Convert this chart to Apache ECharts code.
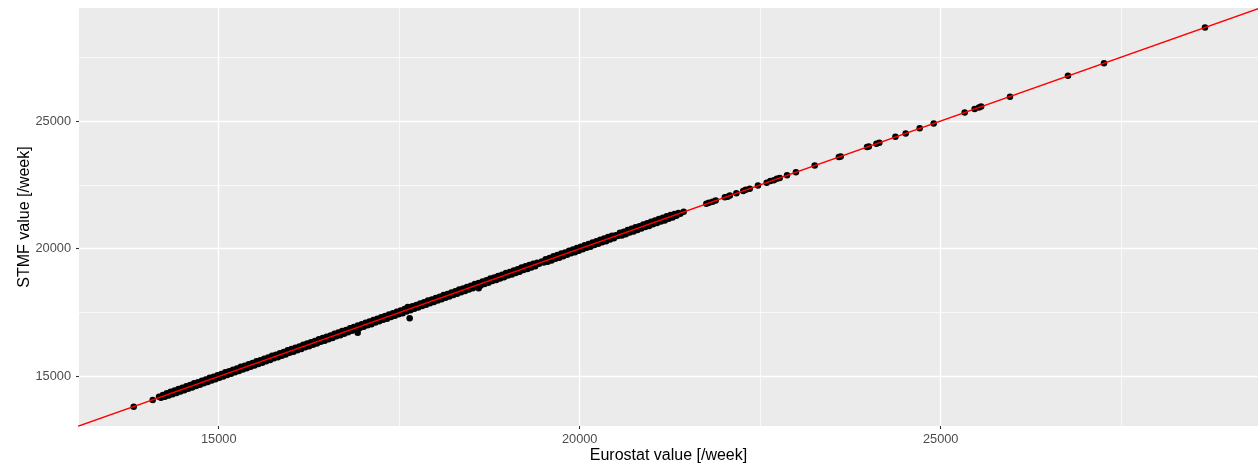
<!DOCTYPE html>
<html>
<head>
<meta charset="utf-8">
<script src="https://cdn.jsdelivr.net/npm/echarts@6/dist/echarts.min.js"></script>
<style>
html,body{margin:0;padding:0;background:#fff;}
#chart{width:1258px;height:463px;}
</style>
</head>
<body>
<div id="chart"></div>
<script>
// Eurostat weekly values (x)
const eurostat = [
13823,14086,
14173,14200,14227,14254,14281,14308,14335,14362,14389,14416,14443,14470,14497,14524,14551,14578,14605,14632,
14659,14686,14713,14740,14767,14794,14821,14848,14875,14902,14929,14956,14983,15010,15037,15064,15091,15118,
15145,15172,15199,15226,15253,15280,15307,15334,15361,15388,15415,15442,15469,15496,15523,15550,15577,15604,
15631,15658,15685,15712,15739,15766,15793,15820,15847,15874,15901,15928,15955,15982,16009,16036,16063,16090,
16117,16144,16171,16198,16225,16252,16279,16306,16333,16360,16387,16414,16441,16468,16495,16522,16549,16576,
16603,16630,16657,16684,16711,16738,16765,16792,16819,16846,16873,16900,16927,16954,16981,17008,17035,17062,
17089,17116,17143,17170,17197,17224,17251,17278,17305,17332,17359,17386,17413,17440,17467,17494,17521,17548,
17575,17602,17629,17656,17683,17710,17737,17764,17791,17818,17845,17872,17899,17926,17953,17980,18007,18034,
18061,18088,18115,18142,18169,18196,18223,18250,18277,18304,18331,18358,18385,18412,18439,18466,18493,18520,
18547,18574,18601,18628,18655,18682,18709,18736,18763,18790,18817,18844,18871,18898,18925,18952,18979,19006,
19033,19060,19087,19114,19141,19168,19195,19222,19249,19276,19303,19330,19357,19384,19411,19438,
19475,19502,19529,19556,19583,19610,19637,19664,19691,19718,19745,19772,19799,19826,19853,19880,19907,19934,
19961,19988,20015,20042,20069,20096,20123,20150,20177,20204,20231,20258,20285,20312,20339,20366,20393,20420,
20447,20474,20501,
20530,20557,20584,20611,20638,20665,20692,20719,20746,20773,20800,20827,20854,20881,20908,20935,20962,20989,
21016,21043,21070,21097,21124,21151,21178,21205,21232,21259,21286,21313,21340,21367,21394,21440,
16925,17645,18601,17618,
21754,21790,21840,21884,22010,22050,22080,22170,22265,22300,22355,22469,22590,22640,22690,22730,22770,22872,
22995,23255,23590,23615,23980,24005,24110,24150,24373,24515,24709,24903,25332,25470,25530,25560,25960,26763,
27262,28661
];
// STMF weekly values (y)
const stmf = [
13818,14080,
14203,14170,14277,14206,14339,14253,14399,14300,14447,14350,14513,14412,14558,14455,14615,14516,14663,14566,
14729,14628,14774,14671,14831,14732,14879,14782,14945,14844,14990,14887,15047,14948,15095,14998,15161,15060,
15206,15103,15263,15164,15311,15214,15377,15276,15422,15319,15479,15380,15527,15430,15593,15492,15638,15535,
15695,15596,15743,15646,15809,15708,15854,15751,15911,15812,15959,15862,16025,15924,16070,15967,16127,16028,
16175,16078,16241,16140,16286,16183,16343,16244,16391,16294,16457,16356,16502,16399,16559,16460,16607,16510,
16673,16572,16718,16615,16775,16676,16823,16726,16889,16788,16934,16831,16991,16892,17039,16942,17105,17004,
17150,17047,17207,17108,17255,17158,17321,17220,17366,17263,17423,17324,17471,17374,17537,17436,17582,17479,
17639,17540,17687,17590,17753,17652,17798,17695,17855,17756,17903,17806,17969,17868,18014,17911,18071,17972,
18119,18022,18185,18084,18230,18127,18287,18188,18335,18238,18401,18300,18446,18343,18503,18404,18551,18454,
18617,18516,18662,18559,18719,18620,18767,18670,18833,18732,18878,18775,18935,18836,18983,18886,19049,18948,
19094,18991,19151,19052,19199,19102,19265,19164,19310,19207,19367,19268,19415,19318,19451,19408,
19505,19457,19593,19494,19641,19544,19707,19606,19752,19649,19809,19710,19857,19760,19923,19822,19968,19865,
20025,19926,20073,19976,20139,20038,20184,20081,20241,20142,20289,20192,20355,20254,20400,20297,20457,20358,
20505,20408,20531,
20500,20621,20522,20669,20572,20735,20634,20780,20677,20837,20738,20885,20788,20951,20850,20996,20893,21053,
20954,21101,21004,21167,21066,21212,21109,21269,21170,21317,21220,21363,21295,21397,21369,21445,
16707,17277,18455,17719,
21758,21800,21835,21890,22015,22040,22085,22175,22260,22310,22350,22475,22585,22650,22685,22740,22765,22880,
22990,23260,23595,23610,23985,24000,24115,24145,24380,24510,24715,24900,25335,25475,25525,25565,25955,26770,
27265,28665
];
// reference line y = x (endpoints in data units)
const refLineX = [12000, 30500];
const refLineY = [12000, 30500];
// axis ticks
const majorTicks = [15000, 20000, 25000];
const minorTicks = [17500, 22500, 27500];

const points = eurostat.map((v, i) => [v, stmf[i]]);
const refLine = refLineX.map((v, i) => [v, refLineY[i]]);

const X_MIN = 13065, X_MAX = 29395, Y_MIN = 13060, Y_MAX = 29425;
const FONT = '"Liberation Sans", Arial, Helvetica, sans-serif';

const chart = echarts.init(document.getElementById('chart'), null, {renderer: 'canvas'});
chart.setOption({
  animation: false,
  backgroundColor: '#ffffff',
  textStyle: {fontFamily: FONT},
  grid: {
    left: 79, right: 0, top: 8, bottom: 37,
    outerBoundsMode: 'none', containLabel: false,
    show: true, backgroundColor: '#EBEBEB', borderWidth: 0
  },
  xAxis: [
    {
      type: 'value', min: X_MIN, max: X_MAX, position: 'bottom',
      axisLine: {show: false},
      axisTick: {show: true, length: 3, lineStyle: {color: '#333333', width: 1.1}, customValues: majorTicks},
      axisLabel: {customValues: majorTicks, color: '#4D4D4D', fontSize: 12.8, fontFamily: FONT, margin: 7,
                  formatter: v => String(v)},
      splitLine: {show: true, lineStyle: {color: '#FFFFFF', width: 1.4}},
      name: 'Eurostat value [/week]', nameLocation: 'middle', nameGap: 21.5, nameMoveOverlap: false,
      nameTextStyle: {color: '#000000', fontSize: 16, fontFamily: FONT}
    },
    {
      type: 'value', min: X_MIN, max: X_MAX, position: 'bottom',
      axisLine: {show: false},
      axisTick: {show: false, customValues: minorTicks},
      axisLabel: {show: false, customValues: minorTicks},
      splitLine: {show: true, lineStyle: {color: '#FFFFFF', width: 0.7}}
    }
  ],
  yAxis: [
    {
      type: 'value', min: Y_MIN, max: Y_MAX, position: 'left',
      axisLine: {show: false},
      axisTick: {show: true, length: 3, lineStyle: {color: '#333333', width: 1.1}, customValues: majorTicks},
      axisLabel: {customValues: majorTicks, color: '#4D4D4D', fontSize: 12.8, fontFamily: FONT, margin: 8,
                  formatter: v => String(v)},
      splitLine: {show: true, lineStyle: {color: '#FFFFFF', width: 1.4}},
      name: 'STMF value [/week]', nameLocation: 'middle', nameGap: 46, nameRotate: 90, nameMoveOverlap: false,
      nameTextStyle: {color: '#000000', fontSize: 16, fontFamily: FONT}
    },
    {
      type: 'value', min: Y_MIN, max: Y_MAX, position: 'left',
      axisLine: {show: false},
      axisTick: {show: false, customValues: minorTicks},
      axisLabel: {show: false, customValues: minorTicks},
      splitLine: {show: true, lineStyle: {color: '#FFFFFF', width: 0.7}}
    }
  ],
  series: [
    {
      type: 'scatter', xAxisIndex: 0, yAxisIndex: 0,
      data: points, symbol: 'circle', symbolSize: 6.5,
      itemStyle: {color: '#000000', opacity: 1},
      silent: true, z: 3
    },
    {
      type: 'line', xAxisIndex: 0, yAxisIndex: 0,
      data: refLine, showSymbol: false, symbol: 'none', clip: true,
      lineStyle: {color: '#FF0000', width: 1.4},
      silent: true, z: 4
    }
  ]
});
</script>
</body>
</html>
